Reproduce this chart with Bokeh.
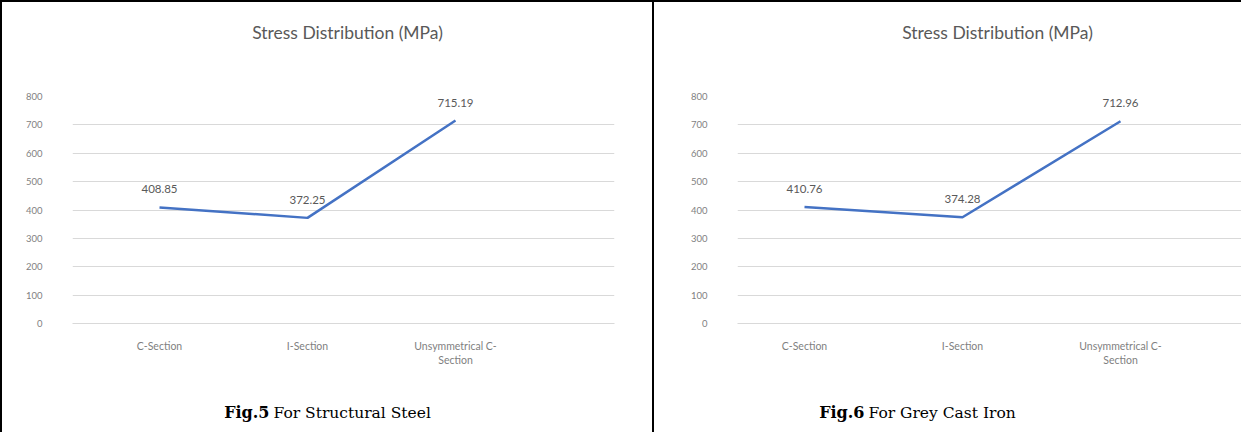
from bokeh.plotting import figure
from bokeh.models import Range1d, FixedTicker, Label, Div, ColumnDataSource
from bokeh.layouts import row, column
from bokeh.core.properties import value
from bokeh.embed import file_html
from bokeh.resources import INLINE

# ---------------- data ----------------
categories = ["C-Section", "I-Section", "Unsymmetrical C-Section"]
tick_labels = ["C-Section", "I-Section", "Unsymmetrical C-\nSection"]
steel_stress = [408.85, 372.25, 715.19]
cast_iron_stress = [410.76, 374.28, 712.96]
y_ticks = [0, 100, 200, 300, 400, 500, 600, 700, 800]
chart_title = "Stress Distribution (MPa)"
caption_bold = ["Fig.5", "Fig.6"]
caption_rest = ["For Structural Steel", "For Grey Cast Iron"]

# ---------------- style ----------------
FONT = "Lato"
LINE_BLUE = "#4472C4"
GRID = "#d9d9d9"
TITLE_H = 70
CHART_H = 305
CAP_H = 55


def strip(width, frame_left, frame_right, height):
    # text strip whose frame is aligned (by the column layout) with the chart frame;
    # its x data units equal the chart figure's pixel columns.
    s = figure(width=width, height=height, output_backend="svg", toolbar_location=None,
               x_axis_type=None, y_axis_type=None, min_border=0,
               x_range=Range1d(frame_left, frame_right), y_range=Range1d(0, height))
    s.grid.visible = False
    s.outline_line_color = None
    return s


def make_chart(values, width, frame_left, frame_right, first_px, step_px):
    frame_top, frame_bottom = 24, CHART_H - 54
    p = figure(width=width, height=CHART_H, output_backend="svg", toolbar_location=None,
               min_border_left=frame_left, min_border_right=width - frame_right,
               min_border_top=frame_top, min_border_bottom=CHART_H - frame_bottom)
    xs = list(range(len(categories)))
    x0 = -(first_px - frame_left) / step_px
    x1 = x0 + (frame_right - frame_left) / step_px
    p.x_range = Range1d(x0, x1)
    p.y_range = Range1d(y_ticks[0], y_ticks[-1])
    p.outline_line_color = None

    p.xaxis.ticker = FixedTicker(ticks=xs)
    p.xaxis.major_label_overrides = {i: t for i, t in zip(xs, tick_labels)}
    p.xaxis.axis_line_color = GRID
    p.xaxis.major_tick_line_color = None
    p.xaxis.minor_tick_line_color = None
    p.xaxis.major_label_standoff = 10
    p.xaxis.major_label_text_font = FONT
    p.xaxis.major_label_text_font_size = "10.5px"
    p.xaxis.major_label_text_color = "#7f7f7f"

    p.yaxis.ticker = FixedTicker(ticks=y_ticks)
    p.yaxis.axis_line_color = None
    p.yaxis.major_tick_line_color = None
    p.yaxis.minor_tick_line_color = None
    p.yaxis.major_label_standoff = 24
    p.yaxis.major_label_text_font = FONT
    p.yaxis.major_label_text_font_size = "9.5px"
    p.yaxis.major_label_text_color = "#7f7f7f"

    p.xgrid.grid_line_color = None
    p.ygrid.ticker = FixedTicker(ticks=y_ticks)
    p.ygrid.grid_line_color = GRID
    p.ygrid.grid_line_width = 1

    src = ColumnDataSource(dict(x=xs, y=values, label=[f"{v:.2f}" for v in values]))
    p.line("x", "y", source=src, line_color=LINE_BLUE, line_width=2.5)
    p.text("x", "y", text="label", source=src, y_offset=-18, text_align="center",
           text_baseline="middle", text_font=value(FONT), text_font_size="11.5px",
           text_color="#595959")
    return p


def make_cell(values, width, frame_left, frame_right, first_px, step_px,
              title_cx, bold, rest, split_px):
    t = strip(width, frame_left, frame_right, TITLE_H)
    t.add_layout(Label(x=title_cx, y=40, text=chart_title, text_align="center",
                       text_baseline="middle", text_font=FONT, text_font_size="17.5px",
                       text_color="#595959"))
    p = make_chart(values, width, frame_left, frame_right, first_px, step_px)
    c = strip(width, frame_left, frame_right, CAP_H)
    c.add_layout(Label(x=split_px - 2, y=20, text=bold, text_align="right",
                       text_baseline="middle", text_font="DejaVu Serif",
                       text_font_size="16px", text_font_style="bold", text_color="black"))
    c.add_layout(Label(x=split_px + 2, y=20, text=rest, text_align="left",
                       text_baseline="middle", text_font="DejaVu Serif",
                       text_font_size="15.5px", text_color="black"))
    return column(t, p, c, spacing=0)


W1, W2 = 650, 587
cell1 = make_cell(steel_stress, W1, 70, 612, 157, 148, 345,
                  caption_bold[0], caption_rest[0], 269)
cell2 = make_cell(cast_iron_stress, W2, 83, W2, 150, 158, 343,
                  caption_bold[1], caption_rest[1], 212)

H = TITLE_H + CHART_H + CAP_H
BLACK = {"background-color": "black"}
layout = column(
    Div(width=1241, height=2, margin=0, styles=BLACK),
    row(
        Div(width=2, height=H, margin=0, styles=BLACK),
        cell1,
        Div(width=2, height=H, margin=0, styles=BLACK),
        cell2,
        spacing=0,
    ),
    spacing=0,
)

open("out.html", "w").write(file_html(layout, INLINE))
